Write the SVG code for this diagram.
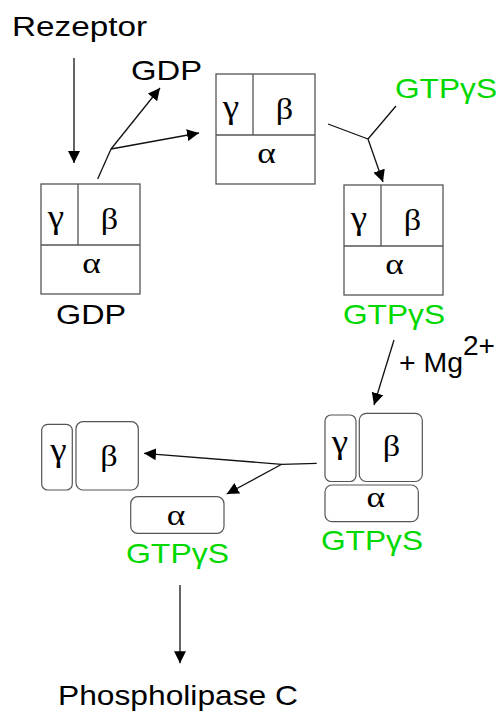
<svg xmlns="http://www.w3.org/2000/svg" width="498" height="713" viewBox="0 0 498 713">
  <style>
    .box { fill: #ffffff; stroke: #555555; stroke-width: 1.3; }
    .div { stroke: #555555; stroke-width: 1.3; fill: none; }
    .rbox { fill: #ffffff; stroke: #555555; stroke-width: 1.2; }
    .conn { stroke: #111111; stroke-width: 1.3; fill: none; }
    .lbl { font-family: "Liberation Sans", Arial, sans-serif; font-size: 27.5px; fill: #000000; }
    .gtp { font-family: "Liberation Sans", Arial, sans-serif; font-size: 27.5px; fill: #00d800; }
    .gr { font-family: "Liberation Serif", "Times New Roman", serif; font-size: 29px; fill: #000000; text-anchor: middle; }
    .gm { font-size: 33px; }
    .ga { font-size: 30px; }
  </style>
  <defs>
    <marker id="arrow" markerUnits="userSpaceOnUse" markerWidth="12" markerHeight="12" refX="12" refY="6" orient="auto" viewBox="0 0 12 12">
      <path d="M0,0 L12,6 L0,12 z" fill="#000000"/>
    </marker>
  </defs>

  <!-- free labels -->
  <g id="rezeptor"><text class="lbl" x="12" y="36" textLength="135" lengthAdjust="spacingAndGlyphs">Rezeptor</text></g>
  <g id="gdp-released"><text class="lbl" x="131" y="80" textLength="71" lengthAdjust="spacingAndGlyphs">GDP</text></g>
  <g id="gtp-added"><text class="gtp" x="395" y="98" textLength="102" lengthAdjust="spacingAndGlyphs">GTPγS</text></g>
  <g id="mg">
    <text class="lbl" x="399" y="372" font-size="26" textLength="64" lengthAdjust="spacingAndGlyphs">+ Mg</text>
    <text class="lbl" x="463" y="355" font-size="17" textLength="32" lengthAdjust="spacingAndGlyphs">2+</text>
  </g>
  <g id="plc"><text class="lbl" x="58" y="705" textLength="240" lengthAdjust="spacingAndGlyphs">Phospholipase C</text></g>

  <!-- heterotrimer with GDP -->
  <g id="g-gdp" transform="translate(41,184)">
    <rect class="box" x="0" y="0" width="99" height="110"/>
    <path class="div" d="M0,61 H99 M37,0 V61"/>
    <text class="gr gm" transform="translate(15,43.5) scale(1.12,1)">γ</text>
    <text class="gr" transform="translate(68.5,45) scale(1.18,1)">β</text>
    <text class="gr ga" transform="translate(50.5,89) scale(1.18,1)">α</text>
    <text class="lbl" x="15" y="140" textLength="70" lengthAdjust="spacingAndGlyphs">GDP</text>
  </g>

  <!-- empty heterotrimer -->
  <g id="g-empty" transform="translate(216,74)">
    <rect class="box" x="0" y="0" width="99" height="110"/>
    <path class="div" d="M0,61 H99 M37,0 V61"/>
    <text class="gr gm" transform="translate(15,43.5) scale(1.12,1)">γ</text>
    <text class="gr" transform="translate(68.5,45) scale(1.18,1)">β</text>
    <text class="gr ga" transform="translate(50.5,89) scale(1.18,1)">α</text>
  </g>

  <!-- heterotrimer with GTPγS -->
  <g id="g-gtp" transform="translate(344,185)">
    <rect class="box" x="0" y="0" width="99" height="110"/>
    <path class="div" d="M0,61 H99 M37,0 V61"/>
    <text class="gr gm" transform="translate(15,43.5) scale(1.12,1)">γ</text>
    <text class="gr" transform="translate(68.5,45) scale(1.18,1)">β</text>
    <text class="gr ga" transform="translate(50.5,89) scale(1.18,1)">α</text>
    <text class="gtp" x="-1" y="138.5" textLength="102" lengthAdjust="spacingAndGlyphs">GTPγS</text>
  </g>

  <!-- activated, loosened subunits -->
  <g id="g-active">
    <rect class="rbox" x="325" y="415" width="31" height="66.5" rx="6"/>
    <rect class="rbox" x="359.3" y="413.3" width="63" height="68.2" rx="7"/>
    <rect class="rbox" x="325" y="485" width="93.3" height="36.7" rx="7"/>
    <text class="gr gm" transform="translate(340,452.5) scale(1.12,1)">γ</text>
    <text class="gr" transform="translate(391.5,455.5) scale(1.18,1)">β</text>
    <text class="gr ga" transform="translate(375.8,506.5) scale(1.18,1)">α</text>
    <text class="gtp" x="321" y="550" textLength="102" lengthAdjust="spacingAndGlyphs">GTPγS</text>
  </g>

  <!-- dissociated beta-gamma dimer -->
  <g id="g-betagamma">
    <rect class="rbox" x="41.7" y="424.3" width="30.6" height="65.7" rx="6"/>
    <rect class="rbox" x="76" y="421.7" width="62.3" height="68.3" rx="7"/>
    <text class="gr gm" transform="translate(58.3,461) scale(1.12,1)">γ</text>
    <text class="gr" transform="translate(109,465.5) scale(1.18,1)">β</text>
  </g>

  <!-- dissociated alpha subunit -->
  <g id="g-alpha">
    <rect class="rbox" x="130.7" y="496.7" width="93.3" height="36.6" rx="7"/>
    <text class="gr ga" transform="translate(176,525) scale(1.18,1)">α</text>
    <text class="gtp" x="126" y="562.7" textLength="103" lengthAdjust="spacingAndGlyphs">GTPγS</text>
  </g>

  <!-- connectors -->
  <g id="connectors">
    <line class="conn" x1="74" y1="58" x2="74" y2="163" marker-end="url(#arrow)"/>
    <path class="conn" d="M97.7,179 L111,149"/>
    <line class="conn" x1="111" y1="149" x2="160" y2="88" marker-end="url(#arrow)"/>
    <line class="conn" x1="111" y1="149" x2="199" y2="133" marker-end="url(#arrow)"/>
    <path class="conn" d="M328,124 L368,139 M396,106 L368,139"/>
    <line class="conn" x1="368" y1="139" x2="383" y2="182" marker-end="url(#arrow)"/>
    <line class="conn" x1="394" y1="340" x2="374" y2="405" marker-end="url(#arrow)"/>
    <path class="conn" d="M316.7,463.3 L281.7,464.3"/>
    <line class="conn" x1="281.7" y1="464.3" x2="144" y2="453.3" marker-end="url(#arrow)"/>
    <line class="conn" x1="281.7" y1="464.3" x2="226.7" y2="494" marker-end="url(#arrow)"/>
    <line class="conn" x1="180" y1="585" x2="180" y2="663.3" marker-end="url(#arrow)"/>
  </g>
</svg>
